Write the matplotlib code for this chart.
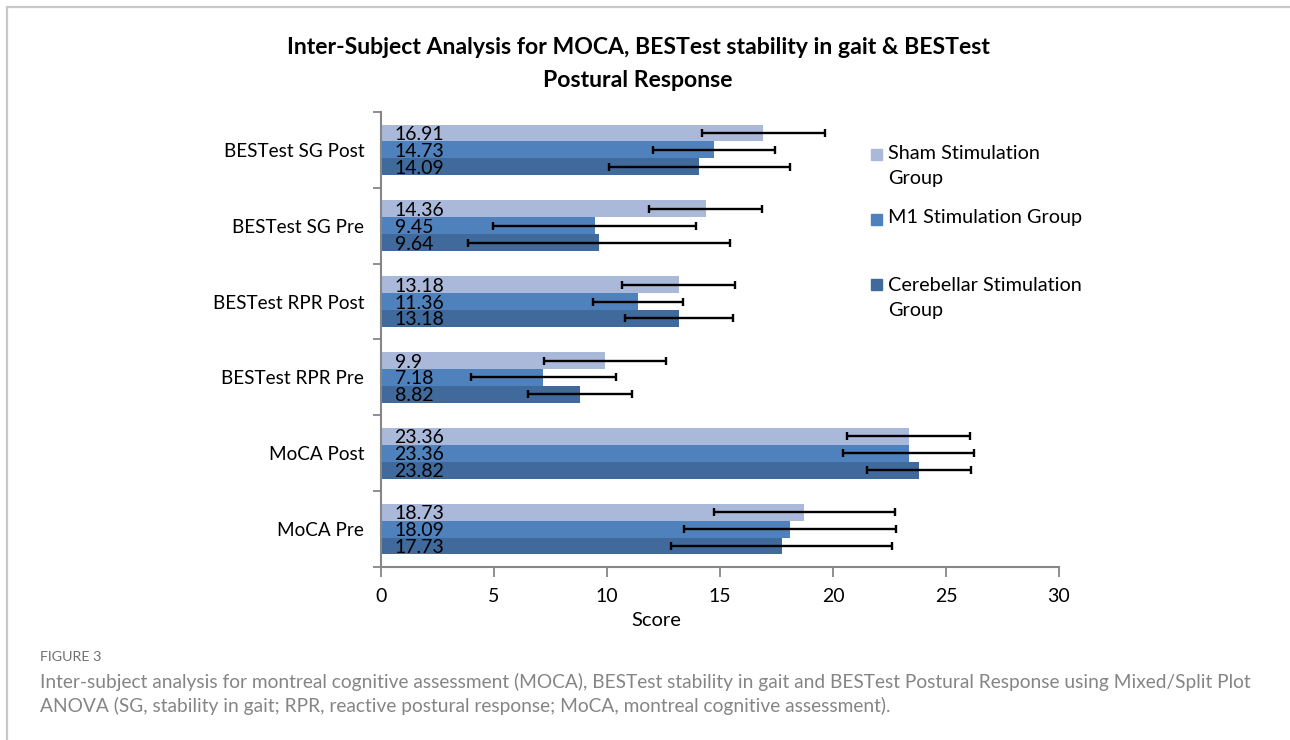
import matplotlib
matplotlib.use("Agg")
import matplotlib.pyplot as plt
from matplotlib.patches import Rectangle
from matplotlib.lines import Line2D
import numpy as np

categories = ["MoCA Pre", "MoCA Post", "BESTest RPR Pre", "BESTest RPR Post",
              "BESTest SG Pre", "BESTest SG Post"]
series_names = ["Sham Stimulation\nGroup", "M1 Stimulation Group",
                "Cerebellar Stimulation\nGroup"]
sham = [18.73, 23.36, 9.9, 13.18, 14.36, 16.91]
m1 = [18.09, 23.36, 7.18, 11.36, 9.45, 14.73]
cereb = [17.73, 23.82, 8.82, 13.18, 9.64, 14.09]
sham_err = [4.0, 2.72, 2.7, 2.5, 2.5, 2.72]
m1_err = [4.7, 2.9, 3.2, 2.0, 4.5, 2.7]
cereb_err = [4.9, 2.3, 2.3, 2.4, 5.8, 4.0]
xticks = [0, 5, 10, 15, 20, 25, 30]

colors = ["#AAB9DA", "#4F81BD", "#3F6A9B"]
FONT = "Lato"
plt.rcParams['font.family'] = [FONT, 'DejaVu Sans']

fig = plt.figure(figsize=(12.9, 7.4), dpi=100)
W, H = 1290, 740
ax = fig.add_axes([381 / W, 1 - 567 / H, (1059 - 381) / W, (567 - 112) / H])

y = np.arange(len(categories))
bh = 0.222
offsets = [bh, 0.0, -bh]
vals = [sham, m1, cereb]
errs = [sham_err, m1_err, cereb_err]
for v, e, off, c in zip(vals, errs, offsets, colors):
    ax.barh(y + off, v, height=bh, color=c, edgecolor='none', zorder=2)
    ax.errorbar(v, y + off, xerr=e, fmt='none', ecolor='black', elinewidth=1.7,
                capsize=3, capthick=1.7, zorder=3)
    for yi, vi in zip(y + off, v):
        ax.text(0.6, yi, f"{vi:g}", ha='left', va='center_baseline',
                fontsize=14, color='black', zorder=4)

ax.set_xlim(0, 30)
ax.set_ylim(-0.5, len(categories) - 0.5)
ax.set_xticks(xticks)
ax.set_xticklabels([str(t) for t in xticks], fontsize=14)
ax.set_yticks(y)
ax.set_yticklabels(categories, fontsize=13.6)
ax.set_yticks(np.arange(-0.5, len(categories), 1.0), minor=True)
ax.tick_params(axis='y', which='major', length=0, pad=12)
ax.tick_params(axis='y', which='minor', length=6, width=1.3, color='#868686')
ax.tick_params(axis='x', which='major', length=7, width=1.3, color='#868686', pad=8)
for s in ['top', 'right']:
    ax.spines[s].set_visible(False)
for s in ['left', 'bottom']:
    ax.spines[s].set_color('#868686')
    ax.spines[s].set_linewidth(1.5)
ax.set_xlabel("Score", fontsize=14.5)
ax.xaxis.set_label_coords((656 - 381) / 678, -(620 - 567) / (567 - 112))
ax.xaxis.label.set_va('center')

fig.text(638 / W, 1 - 64 / H,
         "Inter-Subject Analysis for MOCA, BESTest stability in gait & BESTest\nPostural Response",
         ha='center', va='center', fontsize=16.6, fontweight='bold', linespacing=1.65)

# legend
leg_sq = [154, 219, 284]
leg_txt = [166, 218, 298]
for name, c, ly, ty in zip(series_names, colors, leg_sq, leg_txt):
    fig.patches.append(Rectangle((871 / W, 1 - (ly + 5.5) / H), 11 / W, 11 / H,
                                 transform=fig.transFigure, color=c))
    fig.text(888 / W, 1 - ty / H, name, ha='left', va='center',
             fontsize=14.3, linespacing=1.58)

# frame lines
fig.lines.append(Line2D([7 / W, 1], [1 - 6.5 / H, 1 - 6.5 / H], transform=fig.transFigure,
                        color='#C8C8C8', lw=1.6))
fig.lines.append(Line2D([7 / W, 7 / W], [1 - 6.5 / H, 0], transform=fig.transFigure,
                        color='#C8C8C8', lw=1.6))

fig.text(40 / W, 1 - 657 / H, "FIGURE 3", ha='left', va='center', fontsize=10.3,
         color='#707070')
fig.text(40 / W, 1 - 694 / H,
         "Inter-subject analysis for montreal cognitive assessment (MOCA), BESTest stability in gait and BESTest Postural Response using Mixed/Split Plot\n"
         "ANOVA (SG, stability in gait; RPR, reactive postural response; MoCA, montreal cognitive assessment).",
         ha='left', va='center', fontsize=13.8, color='#858585', linespacing=1.42)

fig.savefig("out.png", dpi=100)
